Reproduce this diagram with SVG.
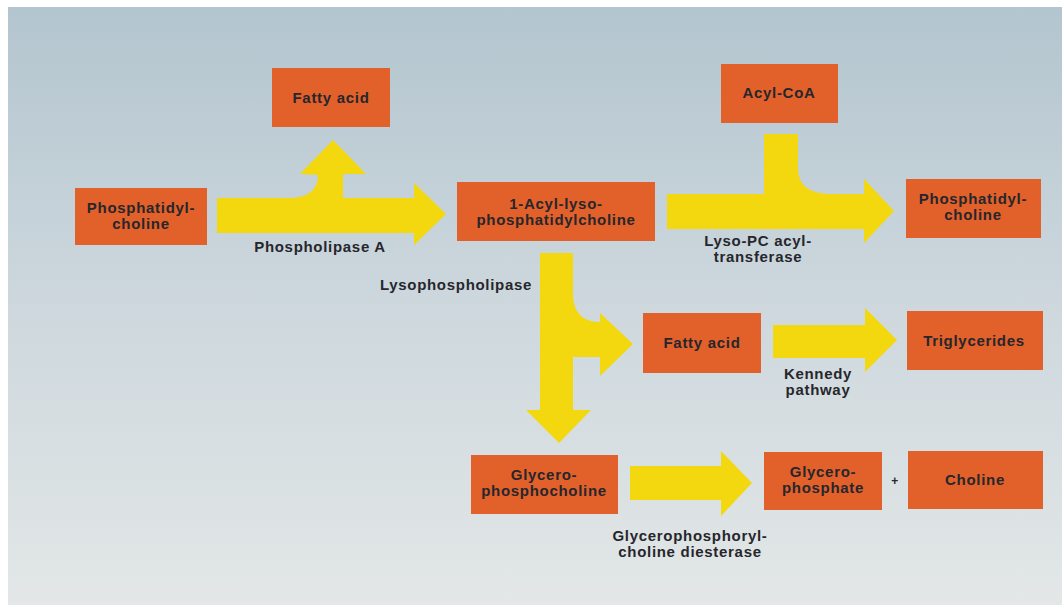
<svg xmlns="http://www.w3.org/2000/svg" width="1062" height="605" viewBox="0 0 1062 605">
<defs>
<linearGradient id="bg" x1="0" y1="0" x2="0" y2="1">
<stop offset="0" stop-color="#b3c5cf"/>
<stop offset="0.45" stop-color="#cbd6dc"/>
<stop offset="1" stop-color="#e3e7e7"/>
</linearGradient>
<style>
.box{fill:#e2612b;}
.arr{fill:#f4d80f;}
text{font-family:"Liberation Sans",Arial,sans-serif;font-weight:700;font-size:15px;letter-spacing:0.7px;fill:#26262c;text-anchor:middle;}
</style>
</defs>
<rect width="1062" height="605" fill="#ffffff"/>
<rect x="8" y="7" width="1054" height="598" fill="url(#bg)"/>

<g id="connectors">
<path class="arr" d="M217,198 L288,198 C308,198 318,190 318,175 L300,174 L333,140 L366,174 L343,174 L343,198 L414,198 L414,183 L446,214 L414,245 L414,233 L217,233 Z"/>
<path class="arr" d="M667,194 L764,194 L764,134 L798,134 L798,168 C798,186 810,194 832,194 L864,194 L864,179 L894,211 L864,243 L864,229 L667,229 Z"/>
<path class="arr" d="M540,253 L573,253 L573,293 C573,313 583,322 600,322 L600,313 L633,344 L600,376 L600,357 L573,357 L573,410 L591,410 L559,443 L526,410 L540,410 Z"/>
<path class="arr" d="M773,325 L865,325 L865,308 L897,340 L865,372 L865,358 L773,358 Z"/>
<path class="arr" d="M630,466 L721,466 L721,451 L752,483 L721,516 L721,500 L630,500 Z"/>
</g>

<g id="phosphatidylcholine-left">
<rect class="box" x="75" y="188" width="132" height="57"/>
<text x="141" y="213">Phosphatidyl-</text>
<text x="141" y="229">choline</text>
</g>
<g id="fatty-acid-top">
<rect class="box" x="272" y="68" width="118" height="59"/>
<text x="331" y="103">Fatty acid</text>
</g>
<g id="acyl-lysopc">
<rect class="box" x="457" y="182" width="198" height="59"/>
<text x="556" y="209">1-Acyl-lyso-</text>
<text x="556" y="225">phosphatidylcholine</text>
</g>
<g id="acyl-coa">
<rect class="box" x="721" y="64" width="117" height="59"/>
<text x="779" y="98">Acyl-CoA</text>
</g>
<g id="phosphatidylcholine-right">
<rect class="box" x="906" y="179" width="135" height="59"/>
<text x="973" y="204">Phosphatidyl-</text>
<text x="973" y="220">choline</text>
</g>
<g id="fatty-acid-mid">
<rect class="box" x="643" y="313" width="118" height="60"/>
<text x="702" y="348">Fatty acid</text>
</g>
<g id="triglycerides">
<rect class="box" x="907" y="311" width="136" height="59"/>
<text x="974" y="346">Triglycerides</text>
</g>
<g id="glycerophosphocholine">
<rect class="box" x="471" y="455" width="147" height="59"/>
<text x="544" y="480">Glycero-</text>
<text x="544" y="496">phosphocholine</text>
</g>
<g id="glycerophosphate">
<rect class="box" x="764" y="452" width="118" height="58"/>
<text x="823" y="477">Glycero-</text>
<text x="823" y="493">phosphate</text>
</g>
<g id="choline">
<rect class="box" x="908" y="451" width="135" height="58"/>
<text x="975" y="485">Choline</text>
</g>

<g id="labels">
<text x="320" y="252">Phospholipase A</text>
<text x="758" y="246">Lyso-PC acyl-</text>
<text x="758" y="262">transferase</text>
<text x="456" y="290">Lysophospholipase</text>
<text x="818" y="379">Kennedy</text>
<text x="818" y="395">pathway</text>
<text x="895" y="485" style="font-size:12px">+</text>
<text x="690" y="541">Glycerophosphoryl-</text>
<text x="690" y="557">choline diesterase</text>
</g>
</svg>
